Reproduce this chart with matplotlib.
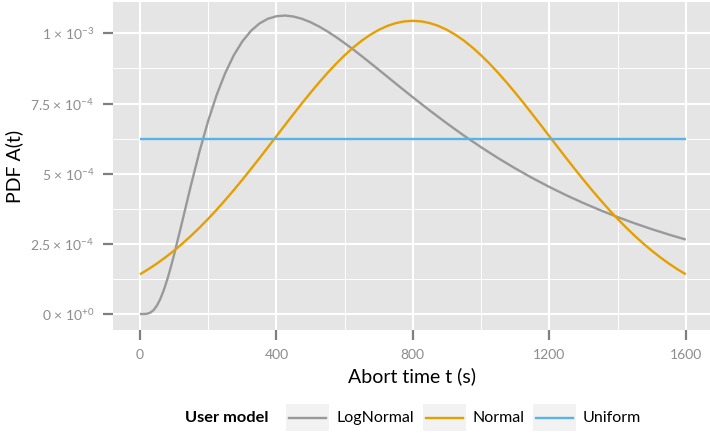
import matplotlib
matplotlib.use('Agg')
import matplotlib.pyplot as plt
from matplotlib.lines import Line2D
from matplotlib.patches import Rectangle

plt.rcParams['font.family'] = ['Lato', 'DejaVu Sans']
plt.rcParams['mathtext.fontset'] = 'custom'
plt.rcParams['mathtext.rm'] = 'Lato'
plt.rcParams['mathtext.it'] = 'Lato:italic'
plt.rcParams['mathtext.bf'] = 'Lato:bold'

# ---------------- data ----------------
series_names = ['LogNormal', 'Normal', 'Uniform']
series_colors = ['#999999', '#E69F00', '#56B4E9']

x_lognormal = [0, 10, 20, 30, 40, 50, 60, 70, 80, 90, 100, 125, 150, 175, 200,
               225, 250, 275, 300, 325, 350, 375, 400, 425, 450, 475, 500, 525,
               550, 575, 600, 625, 650, 675, 700, 725, 750, 775, 800, 850, 900,
               950, 1000, 1050, 1100, 1150, 1200, 1250, 1300, 1350, 1400, 1450,
               1500, 1550, 1600]
pdf_lognormal = [0.0, 0.00000002, 0.0000007, 0.0000045, 0.0000139, 0.0000305,
                 0.0000545, 0.0000856, 0.0001227, 0.0001649, 0.0002108,
                 0.0003349, 0.0004614, 0.0005810, 0.0006885, 0.0007813,
                 0.0008589, 0.0009220, 0.0009714, 0.0010087, 0.0010352,
                 0.0010523, 0.0010613, 0.0010637, 0.0010602, 0.0010521,
                 0.0010400, 0.0010247, 0.0010068, 0.0009869, 0.0009654,
                 0.0009428, 0.0009192, 0.0008950, 0.0008706, 0.0008459,
                 0.0008212, 0.0007967, 0.0007724, 0.0007249, 0.0006792,
                 0.0006356, 0.0005944, 0.0005555, 0.0005190, 0.0004848,
                 0.0004529, 0.0004231, 0.0003954, 0.0003696, 0.0003456,
                 0.0003233, 0.0003025, 0.0002833, 0.0002653]

x_normal = [0, 25, 50, 75, 100, 125, 150, 175, 200, 225, 250, 275, 300, 325,
            350, 375, 400, 425, 450, 475, 500, 525, 550, 575, 600, 625, 650,
            675, 700, 725, 750, 775, 800, 825, 850, 875, 900, 925, 950, 975,
            1000, 1025, 1050, 1075, 1100, 1125, 1150, 1175, 1200, 1225, 1250,
            1275, 1300, 1325, 1350, 1375, 1400, 1425, 1450, 1475, 1500, 1525,
            1550, 1575, 1600]
pdf_normal = [0.0001414, 0.0001599, 0.0001801, 0.0002022, 0.0002260, 0.0002516,
              0.0002791, 0.0003083, 0.0003393, 0.0003718, 0.0004061, 0.0004416,
              0.0004784, 0.0005163, 0.0005549, 0.0005942, 0.0006338, 0.0006733,
              0.0007125, 0.0007512, 0.0007887, 0.0008250, 0.0008595, 0.0008920,
              0.0009221, 0.0009495, 0.0009740, 0.0009951, 0.0010127, 0.0010267,
              0.0010367, 0.0010429, 0.0010449, 0.0010429, 0.0010367, 0.0010267,
              0.0010127, 0.0009951, 0.0009740, 0.0009495, 0.0009221, 0.0008920,
              0.0008595, 0.0008250, 0.0007887, 0.0007512, 0.0007125, 0.0006733,
              0.0006338, 0.0005942, 0.0005549, 0.0005163, 0.0004784, 0.0004416,
              0.0004061, 0.0003718, 0.0003393, 0.0003083, 0.0002791, 0.0002516,
              0.0002260, 0.0002022, 0.0001801, 0.0001599, 0.0001414]

x_uniform = [0, 1600]
pdf_uniform = [0.000625, 0.000625]

x_ticks = [0, 400, 800, 1200, 1600]
x_tick_labels = ['0', '400', '800', '1200', '1600']
y_ticks = [0.0, 0.00025, 0.0005, 0.00075, 0.001]
y_tick_labels = ['0 × 10$^{+0}$', '2.5 × 10$^{-4}$', '5 × 10$^{-4}$',
                 '7.5 × 10$^{-4}$', '1 × 10$^{-3}$']
x_minor = [200, 600, 1000, 1400]
y_minor = [0.000125, 0.000375, 0.000625, 0.000875]

xs = [x_lognormal, x_normal, x_uniform]
ys = [pdf_lognormal, pdf_normal, pdf_uniform]

# ---------------- figure ----------------
W, H = 710, 433
fig = plt.figure(figsize=(W / 100, H / 100), dpi=100)

def fx(px):
    return px / W

def fy(py):
    return (H - py) / H

ax = fig.add_axes([fx(113), fy(330), fx(710) - fx(113), fy(2) - fy(330)])
ax.set_facecolor('#E5E5E5')
for s in ax.spines.values():
    s.set_visible(False)

ax.set_xlim(-79, 1671)
ax.set_ylim(-0.000057, 0.001112)

ax.set_xticks(x_ticks)
ax.set_xticklabels(x_tick_labels)
ax.set_yticks(y_ticks)
ax.set_yticklabels(y_tick_labels)
ax.set_xticks(x_minor, minor=True)
ax.set_yticks(y_minor, minor=True)
ax.tick_params(which='major', length=7.5, width=1.6, color='#7F7F7F',
               labelcolor='#8C8C8C', labelsize=10, pad=6)
ax.tick_params(which='minor', length=0)
ax.grid(which='major', color='white', linewidth=1.5)
ax.grid(which='minor', color='white', linewidth=0.7)
ax.set_axisbelow(True)

for xv, yv, c, n in zip(xs, ys, series_colors, series_names):
    ax.plot(xv, yv, color=c, linewidth=1.7, label=n, solid_capstyle='butt')

ax.set_xlabel('Abort time t (s)', fontsize=14, color='black', labelpad=5)
ax.set_ylabel('PDF A(t)', fontsize=14, color='black', labelpad=5)

# ---------------- legend (manual, ggplot-style) ----------------
fig.text(fx(185), fy(418), 'User model', fontsize=11.8, fontweight='bold',
         ha='left', va='center', color='black')
box_x = [286, 423, 533]
box_w = 43
for bx, c, n in zip(box_x, series_colors, series_names):
    fig.add_artist(Rectangle((fx(bx), fy(431)), fx(box_w), fy(404) - fy(431),
                             transform=fig.transFigure, facecolor='#F2F2F2',
                             edgecolor='none'))
    fig.add_artist(Line2D([fx(bx + 3), fx(bx + box_w - 3)], [fy(418), fy(418)],
                          transform=fig.transFigure, color=c, linewidth=1.7))
    fig.text(fx(bx + box_w + 7), fy(418), n, fontsize=11.5, ha='left',
             va='center', color='black')

fig.savefig('out.png', dpi=100)
